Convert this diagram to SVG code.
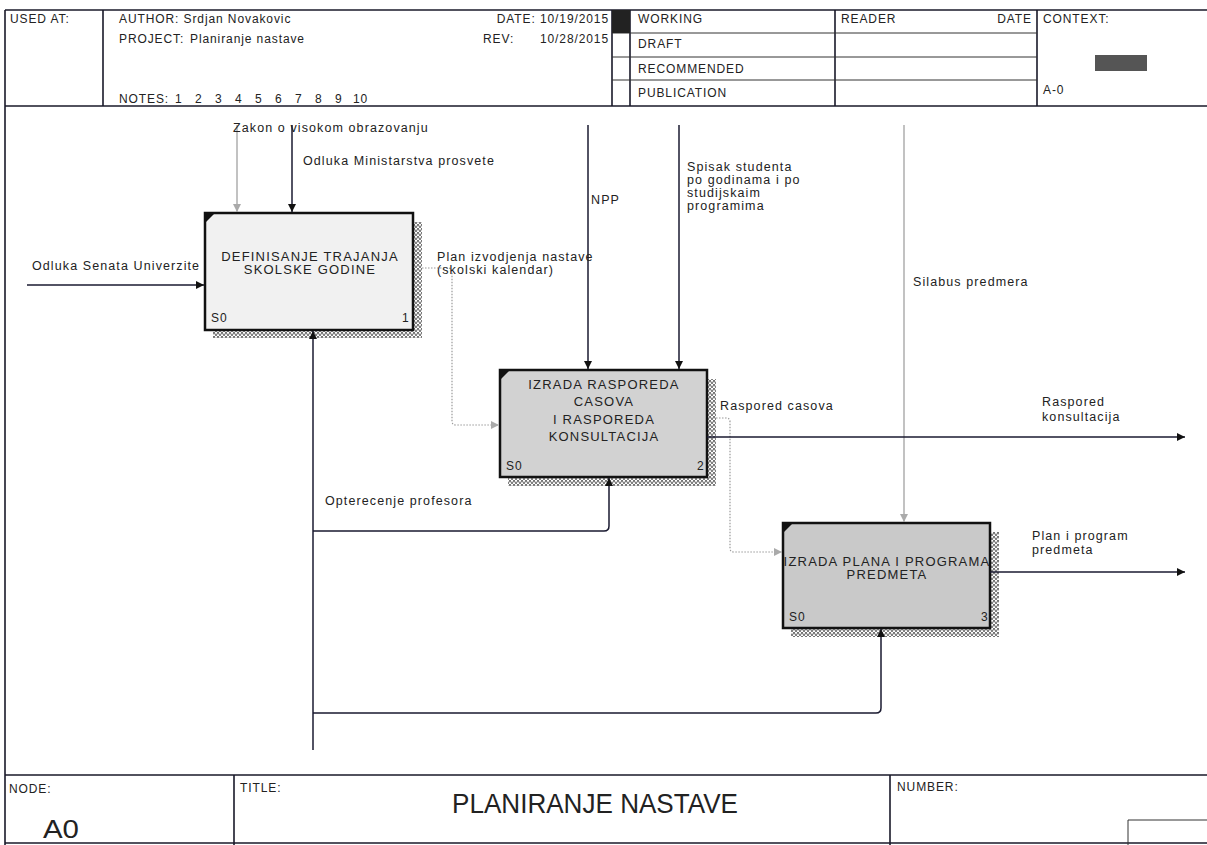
<svg xmlns="http://www.w3.org/2000/svg" width="1207" height="845" viewBox="0 0 1207 845">
<style>
text{font-family:"Liberation Sans",Arial,sans-serif;fill:#222}
.h{font-size:12px;letter-spacing:0.9px}
.lbl{font-size:12.5px;letter-spacing:1.1px}
.bt{font-size:13px;letter-spacing:1.2px;text-anchor:middle}
.frame{stroke:#1a1a2a;stroke-width:1.6;fill:none}
.thin{stroke:#333;stroke-width:1;fill:none}
.box{stroke:#111;stroke-width:2.5}
.c{stroke:#1a1a30;stroke-width:1.5;fill:none}
.g{stroke:#999;stroke-width:1.2;fill:none}
.d{stroke:#999;stroke-width:1.2;fill:none;stroke-dasharray:1.5 1.5}
</style>
<defs>
<pattern id="hatch" width="4" height="4" patternUnits="userSpaceOnUse">
<rect width="4" height="4" fill="#fff"/>
<path d="M0 4 L2 0 L4 4" stroke="#444" stroke-width="0.9" fill="none"/>
</pattern>
<marker id="ab" viewBox="0 0 10 10" refX="10" refY="5" markerWidth="8" markerHeight="8" markerUnits="userSpaceOnUse" orient="auto">
<path d="M0 0 L10 5 L0 10 Z" fill="#111"/>
</marker>
<marker id="ag" viewBox="0 0 10 10" refX="10" refY="5" markerWidth="8" markerHeight="8" markerUnits="userSpaceOnUse" orient="auto">
<path d="M0 0 L10 5 L0 10 Z" fill="#aaa"/>
</marker>
</defs>
<rect width="1207" height="845" fill="#fff"/>

<g id="frame">
<path class="frame" d="M5 10 H1207 M5 10 V845 M5 106 H1207 M5 775 H1207 M5 843 H1207"/>
<path class="frame" d="M103 10 V106 M612 10 V106 M630 10 V106 M835 10 V106 M1037 10 V106"/>
<path class="thin" d="M612 33 H1037 M612 57 H1037 M612 80 H1037"/>
<rect x="612" y="10" width="18" height="23" fill="#222"/>
<rect x="1095" y="55" width="52" height="16" fill="#555"/>
<path class="frame" d="M234 775 V845 M890 775 V845"/>
<path class="thin" d="M1128 845 V820 H1207"/>
<text class="h" x="10" y="23">USED AT:</text>
<text class="h" x="119" y="23">AUTHOR:  Srdjan Novakovic</text>
<text class="h" x="119" y="43">PROJECT:</text>
<text class="h" x="190" y="43">Planiranje nastave</text>
<text class="h" x="119" y="103">NOTES:</text>
<text class="h" y="103"><tspan x="175">1</tspan><tspan x="195">2</tspan><tspan x="215">3</tspan><tspan x="235">4</tspan><tspan x="255">5</tspan><tspan x="275">6</tspan><tspan x="295">7</tspan><tspan x="315">8</tspan><tspan x="335">9</tspan><tspan x="353">10</tspan></text>
<text class="h" x="609" y="23" text-anchor="end">DATE: 10/19/2015</text>
<text class="h" x="483" y="43">REV:</text>
<text class="h" x="609" y="43" text-anchor="end">10/28/2015</text>
<text class="h" x="638" y="23">WORKING</text>
<text class="h" x="638" y="48">DRAFT</text>
<text class="h" x="638" y="73">RECOMMENDED</text>
<text class="h" x="638" y="97">PUBLICATION</text>
<text class="h" x="841" y="23">READER</text>
<text class="h" x="1032" y="23" text-anchor="end">DATE</text>
<text class="h" x="1043" y="23">CONTEXT:</text>
<text class="h" x="1043" y="94" font-size="11">A-0</text>
<text class="h" x="9" y="793">NODE:</text>
<text x="43" y="838" font-size="25" textLength="36" lengthAdjust="spacingAndGlyphs">A0</text>
<text class="h" x="240" y="792">TITLE:</text>
<text x="452" y="813" font-size="27" textLength="286" lengthAdjust="spacingAndGlyphs">PLANIRANJE NASTAVE</text>
<text class="h" x="897" y="791">NUMBER:</text>
</g>

<g id="node1">
<path d="M413 222 H422 V338 H213 V330 H413 Z" fill="url(#hatch)"/>
<rect class="box" x="205" y="213" width="208" height="117" fill="#f1f1f1"/>
<path d="M206 214 L214 214 L206 222 Z" fill="#111"/>
<text class="bt" x="310" y="261">DEFINISANJE TRAJANJA</text>
<text class="bt" x="310" y="274">SKOLSKE GODINE</text>
<text class="h" x="211" y="322">S0</text>
<text class="h" x="402" y="322">1</text>
</g>

<g id="node2">
<path d="M707 379 H716 V486 H508 V477 H707 Z" fill="url(#hatch)"/>
<rect class="box" x="500" y="370" width="207" height="107" fill="#d2d2d2"/>
<path d="M501 371 L509 371 L501 379 Z" fill="#111"/>
<text class="bt" x="604" y="389">IZRADA RASPOREDA</text>
<text class="bt" x="604" y="406">CASOVA</text>
<text class="bt" x="604" y="424">I RASPOREDA</text>
<text class="bt" x="604" y="441">KONSULTACIJA</text>
<text class="h" x="506" y="470">S0</text>
<text class="h" x="697" y="470">2</text>
</g>

<g id="node3">
<path d="M990 532 H999 V637 H791 V628 H990 Z" fill="url(#hatch)"/>
<rect class="box" x="783" y="523" width="207" height="105" fill="#c9c9c9"/>
<path d="M784 524 L792 524 L784 532 Z" fill="#111"/>
<text class="bt" x="887" y="566">IZRADA PLANA I PROGRAMA</text>
<text class="bt" x="887" y="579">PREDMETA</text>
<text class="h" x="789" y="621">S0</text>
<text class="h" x="981" y="621">3</text>
</g>

<g id="connectors">
<path class="c" d="M27 285 H204" marker-end="url(#ab)"/>
<text class="lbl" x="32" y="270">Odluka Senata Univerzite</text>
<path class="g" d="M237 125 V212" marker-end="url(#ag)"/>
<text class="lbl" x="233" y="132">Zakon o visokom obrazovanju</text>
<path class="c" d="M292 125 V212" marker-end="url(#ab)"/>
<text class="lbl" x="303" y="165">Odluka Ministarstva prosvete</text>
<path class="c" d="M588 125 V369" marker-end="url(#ab)"/>
<text class="lbl" x="591" y="204">NPP</text>
<path class="c" d="M679 125 V369" marker-end="url(#ab)"/>
<text class="lbl" x="687" y="171">Spisak studenta</text>
<text class="lbl" x="687" y="184">po godinama i po</text>
<text class="lbl" x="687" y="197">studijskaim</text>
<text class="lbl" x="687" y="210">programima</text>
<path class="g" d="M904 125 V522" marker-end="url(#ag)"/>
<text class="lbl" x="913" y="286">Silabus predmera</text>
<path class="d" d="M422 268 H448 Q452 268 452 272 V421 Q452 425 456 425 H499" marker-end="url(#ag)"/>
<text class="lbl" x="437" y="261">Plan izvodjenja nastave</text>
<text class="lbl" x="437" y="274">(skolski kalendar)</text>
<path class="d" d="M716 418 H726 Q730 418 730 422 V548 Q730 552 734 552 H782" marker-end="url(#ag)"/>
<text class="lbl" x="720" y="410">Raspored casova</text>
<path class="c" d="M707 437 H1185" marker-end="url(#ab)"/>
<text class="lbl" x="1042" y="406">Raspored</text>
<text class="lbl" x="1042" y="421">konsultacija</text>
<path class="c" d="M990 572 H1185" marker-end="url(#ab)"/>
<text class="lbl" x="1032" y="540">Plan i program</text>
<text class="lbl" x="1032" y="554">predmeta</text>
<path class="c" d="M313 750 V331" marker-end="url(#ab)"/>
<path class="c" d="M313 531 H604 Q609 531 609 526 V478" marker-end="url(#ab)"/>
<text class="lbl" x="325" y="505">Opterecenje profesora</text>
<path class="c" d="M313 713 H876 Q881 713 881 708 V629" marker-end="url(#ab)"/>
</g>
</svg>
